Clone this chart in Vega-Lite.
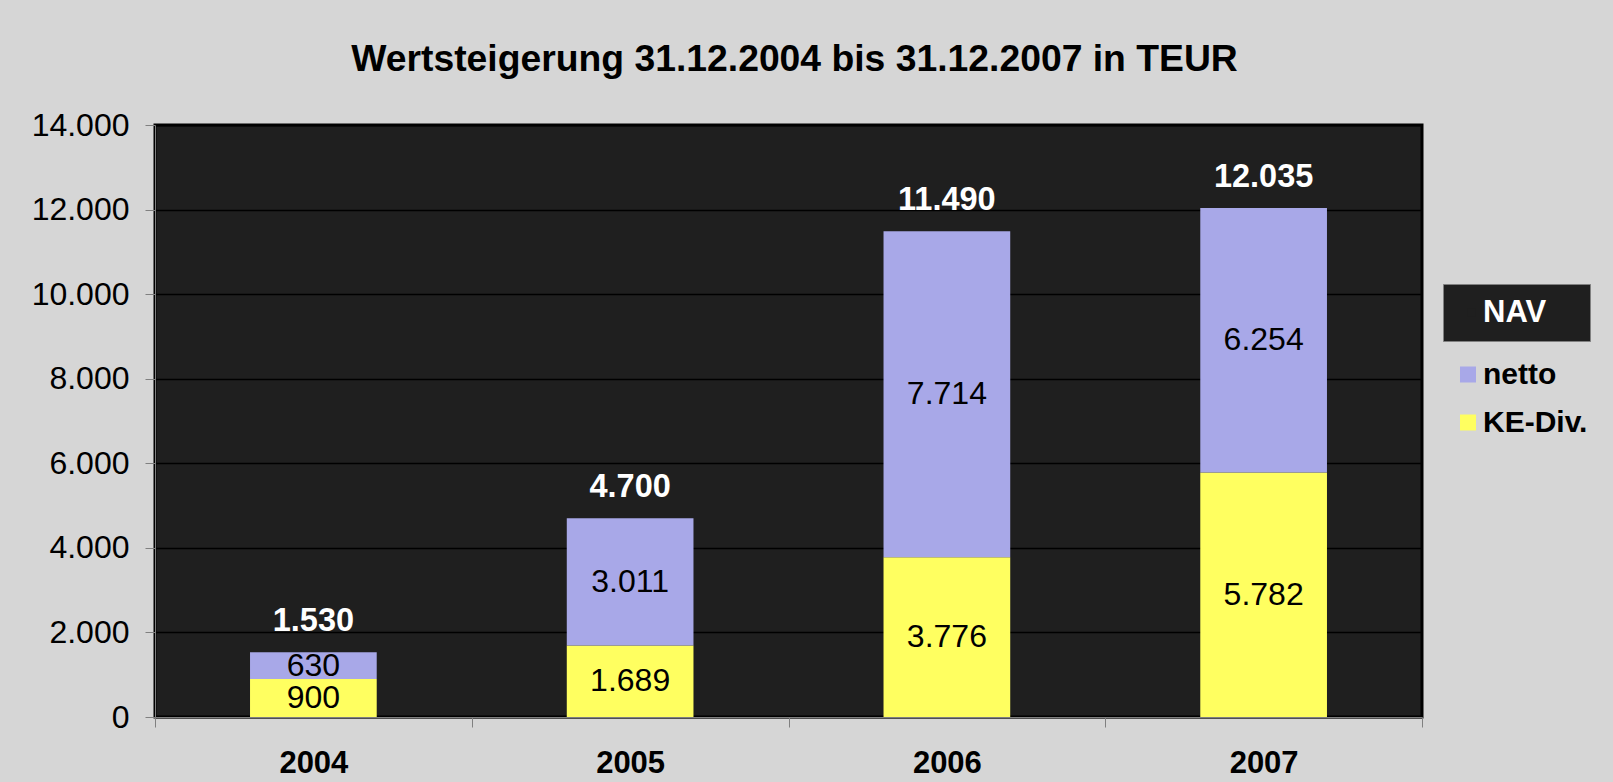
{
  "$schema": "https://vega.github.io/schema/vega-lite/v6.json",
  "width": 1267,
  "height": 592,
  "autosize": {"type": "none"},
  "padding": {"left": 155, "top": 125, "right": 191, "bottom": 65},
  "background": "#d6d6d6",
  "config": {
    "locale": {"number": {"decimal": ",", "thousands": ".", "grouping": [3], "currency": ["", " €"]}},
    "view": {"fill": "#1f1f1f", "stroke": "#000", "strokeWidth": 3},
    "font": "Liberation Sans"
  },
  "title": {
    "text": "Wertsteigerung 31.12.2004 bis 31.12.2007 in TEUR",
    "fontSize": 37.3,
    "fontWeight": "bold",
    "font": "Liberation Sans",
    "color": "#000",
    "anchor": "middle",
    "baseline": "alphabetic",
    "offset": 1,
    "dx": 6
  },
  "data": {
    "values": [
      {"year": "2004", "series": "KE-Div.", "value": 900, "total": 1530, "nav": "NAV"},
      {"year": "2004", "series": "netto", "value": 630, "total": 1530, "nav": "NAV"},
      {"year": "2005", "series": "KE-Div.", "value": 1689, "total": 4700, "nav": "NAV"},
      {"year": "2005", "series": "netto", "value": 3011, "total": 4700, "nav": "NAV"},
      {"year": "2006", "series": "KE-Div.", "value": 3776, "total": 11490, "nav": "NAV"},
      {"year": "2006", "series": "netto", "value": 7714, "total": 11490, "nav": "NAV"},
      {"year": "2007", "series": "KE-Div.", "value": 5782, "total": 12035, "nav": "NAV"},
      {"year": "2007", "series": "netto", "value": 6254, "total": 12035, "nav": "NAV"}
    ]
  },
  "encoding": {
    "x": {
      "field": "year",
      "type": "nominal",
      "title": null,
      "scale": {"paddingInner": 0, "paddingOuter": 0},
      "axis": {
        "labelAngle": 0,
        "labelFontSize": 31,
        "labelFontWeight": "bold",
        "labelColor": "#000",
        "labelPadding": 21,
        "tickBand": "extent",
        "tickColor": "#808080",
        "tickSize": 10,
        "domainColor": "#808080",
        "grid": false
      }
    }
  },
  "layer": [
    {
      "mark": {"type": "bar", "width": {"band": 0.4}},
      "encoding": {
        "y": {
          "field": "value",
          "type": "quantitative",
          "stack": "zero",
          "title": null,
          "scale": {"domain": [0, 14000], "nice": false},
          "axis": {
            "values": [0, 2000, 4000, 6000, 8000, 10000, 12000, 14000],
            "format": ",d",
            "labelFontSize": 32,
            "labelColor": "#000",
            "labelPadding": 16,
            "tickColor": "#808080",
            "tickSize": 10,
            "domainColor": "#808080",
            "gridColor": "#000",
            "gridWidth": 1.5
          }
        },
        "color": {
          "field": "series",
          "type": "nominal",
          "scale": {"domain": ["netto", "KE-Div."], "range": ["#a8a8e8", "#ffff60"]},
          "legend": {
            "orient": "none",
            "legendX": 1298,
            "legendY": 234.5,
            "title": null,
            "symbolType": "square",
            "symbolSize": 256,
            "symbolStrokeWidth": 0,
            "symbolOpacity": 1,
            "labelFontSize": 30,
            "labelFontWeight": "bold",
            "labelColor": "#000",
            "labelOffset": 0,
            "rowPadding": 18,
            "padding": 0
          }
        },
        "order": {"field": "series", "sort": "ascending"},
        "opacity": {
          "field": "nav",
          "type": "nominal",
          "scale": {"range": [1]},
          "legend": {
            "orient": "none",
            "legendX": 1288,
            "legendY": 159,
            "title": "M",
            "titleOrient": "right",
            "titleFontSize": 14,
            "titleColor": "#1f1f1f",
            "titlePadding": 19,
            "fillColor": "#1f1f1f",
            "strokeColor": "#808080",
            "padding": 13,
            "symbolType": "square",
            "symbolSize": 64,
            "symbolFillColor": "#1f1f1f",
            "symbolStrokeColor": "#1f1f1f",
            "symbolStrokeWidth": 0,
            "labelOffset": -4,
            "labelFontSize": 31,
            "labelFontWeight": "bold",
            "labelColor": "#fff"
          }
        }
      }
    },
    {
      "mark": {"type": "text", "fontSize": 32, "color": "#000", "baseline": "middle"},
      "encoding": {
        "y": {"field": "value", "type": "quantitative", "stack": "zero", "bandPosition": 0.5, "title": null},
        "detail": {"field": "series"},
        "order": {"field": "series", "sort": "ascending"},
        "text": {"field": "value", "type": "quantitative", "format": ",d"}
      }
    },
    {
      "transform": [{"filter": "datum.series === 'netto'"}],
      "mark": {"type": "text", "fontSize": 32.5, "fontWeight": "bold", "color": "#fff", "baseline": "alphabetic", "dy": -21.5},
      "encoding": {
        "y": {"field": "total", "type": "quantitative", "title": null},
        "text": {"field": "total", "type": "quantitative", "format": ",d"}
      }
    }
  ]
}
